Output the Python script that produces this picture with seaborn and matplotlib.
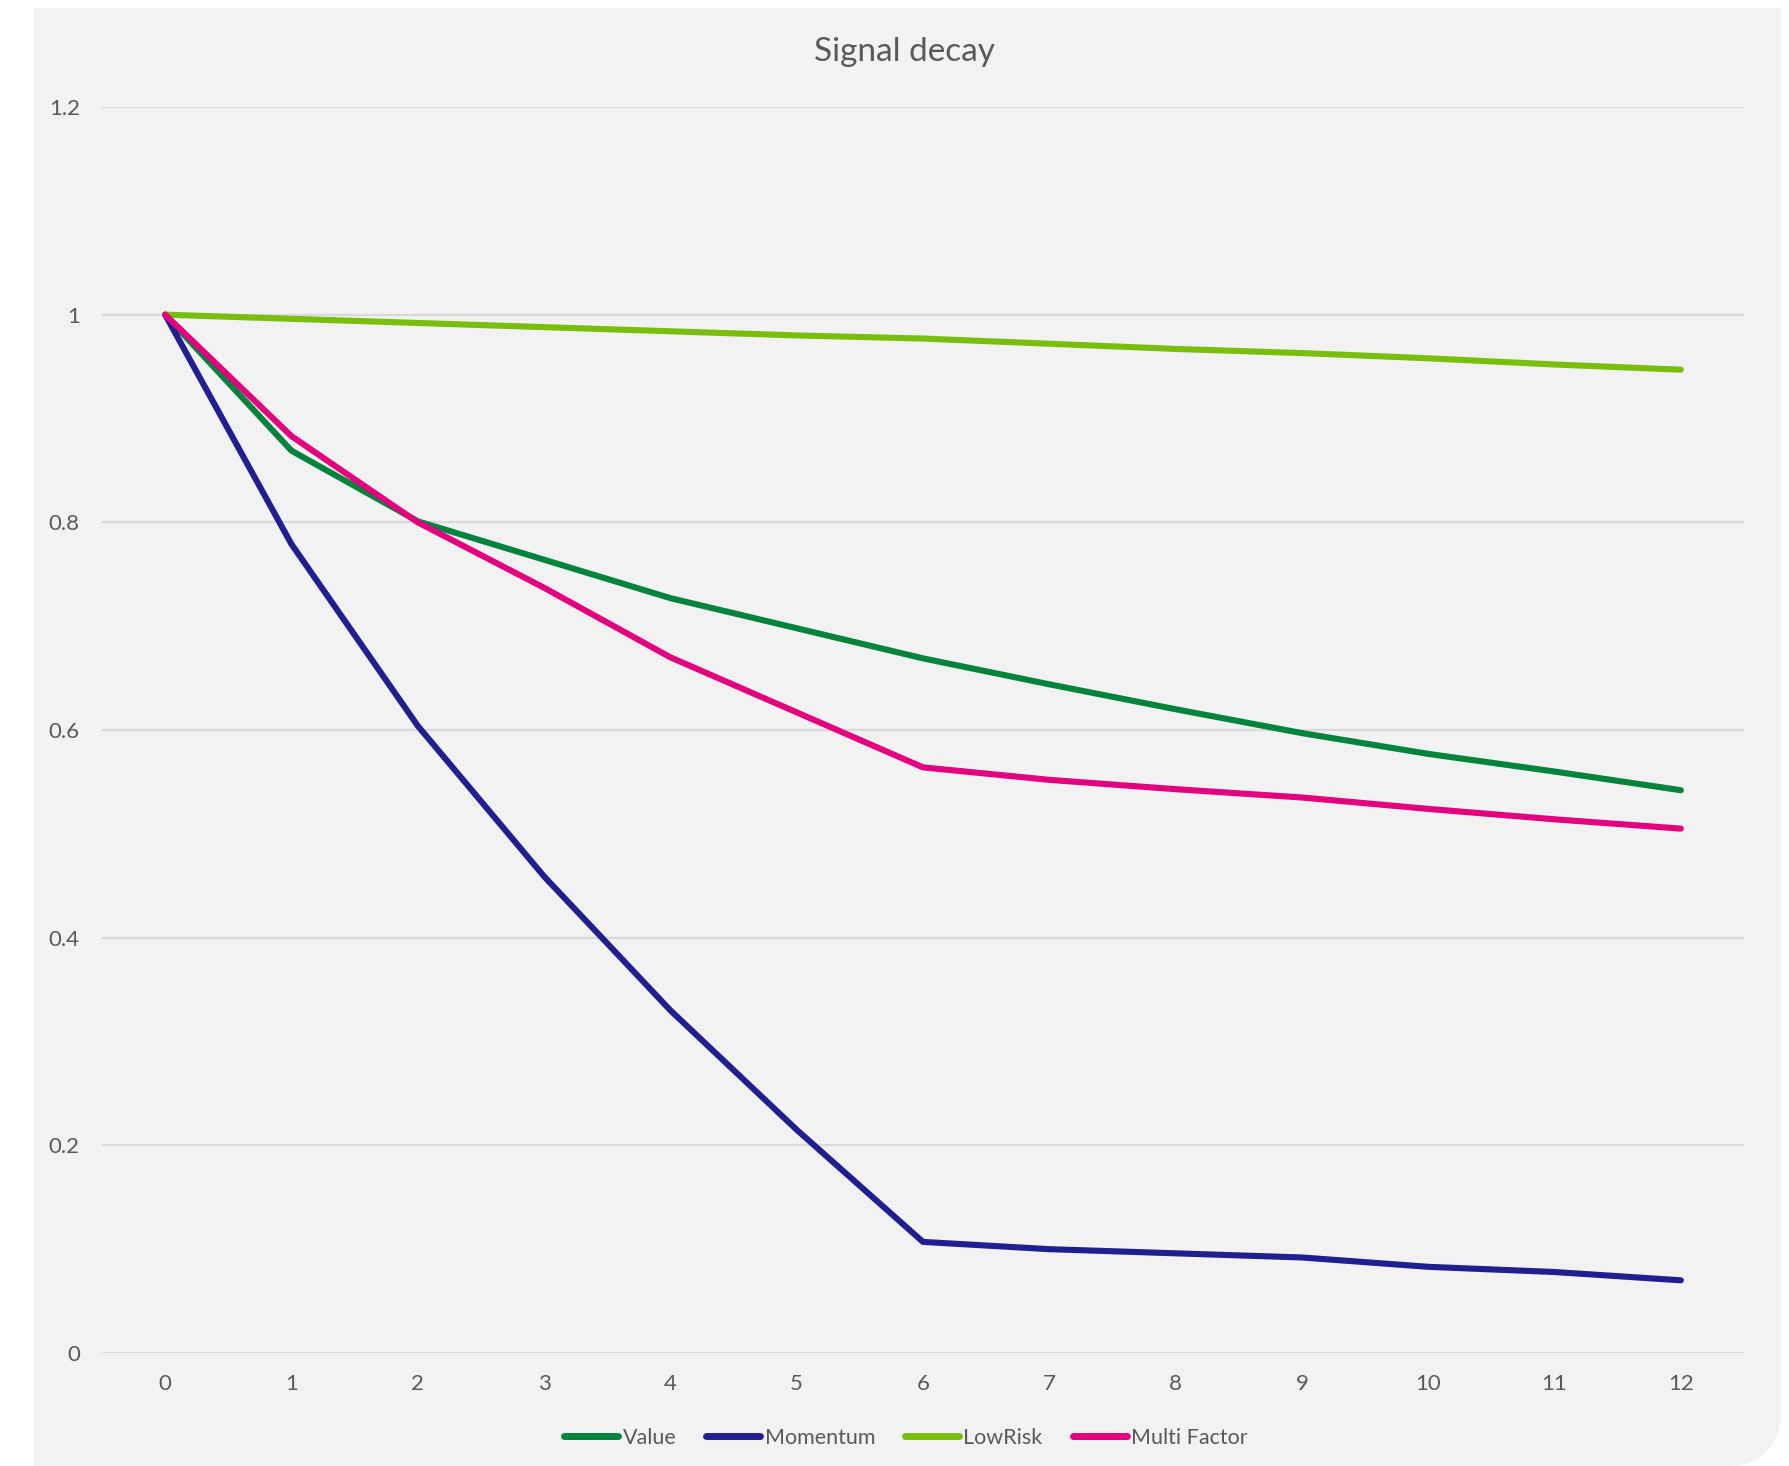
import pandas as pd
import matplotlib.pyplot as plt
import matplotlib.patches as mpatches
import seaborn as sns

periods = list(range(13))
value = [1.0, 0.869, 0.801, 0.764, 0.727, 0.698, 0.669, 0.644, 0.620, 0.597, 0.577, 0.560, 0.542]
momentum = [1.0, 0.779, 0.604, 0.459, 0.330, 0.215, 0.107, 0.100, 0.096, 0.092, 0.083, 0.078, 0.070]
lowrisk = [1.0, 0.996, 0.992, 0.988, 0.984, 0.980, 0.977, 0.972, 0.967, 0.963, 0.958, 0.952, 0.947]
multi_factor = [1.0, 0.883, 0.800, 0.737, 0.670, 0.617, 0.564, 0.552, 0.543, 0.535, 0.524, 0.514, 0.505]

series_names = ["Value", "Momentum", "LowRisk", "Multi Factor"]
colors = {"Value": "#00843D", "Momentum": "#201F8F", "LowRisk": "#78BE0A", "Multi Factor": "#E2007F"}

rows = []
for name, vals in zip(series_names, [value, momentum, lowrisk, multi_factor]):
    for p, v in zip(periods, vals):
        rows.append({"Period": p, "Decay": v, "Factor": name})
df = pd.DataFrame(rows)

sns.set_style("white")
plt.rcParams["font.family"] = ["Lato", "DejaVu Sans"]
text_color = "#595959"
bg = "#F2F2F2"

fig = plt.figure(figsize=(17.9, 14.66), dpi=100)
fig.patch.set_facecolor("white")

# background panel with rounded bottom-right corner
W, H = 1790, 1466
r = 50
for patch in [
    mpatches.Rectangle((34 / W, (1466 - 1416) / H), (1781 - 34) / W, (1416 - 8) / H),
    mpatches.Rectangle((34 / W, 0), (1731 - 34) / W, (1466 - 1416) / H + 0.001),
    mpatches.Ellipse((1731 / W, (1466 - 1416) / H), 2 * r / W, 2 * r / H),
]:
    patch.set_facecolor(bg)
    patch.set_edgecolor("none")
    patch.set_transform(fig.transFigure)
    patch.set_zorder(-10)
    fig.patches.append(patch)

ax = fig.add_axes([102 / W, 1 - 1353 / H, (1744 - 102) / W, (1353 - 107) / H])
ax.set_facecolor(bg)

sns.lineplot(data=df, x="Period", y="Decay", hue="Factor", hue_order=series_names,
             palette=colors, linewidth=4.4, ax=ax, solid_capstyle="round")

ax.set_xlim(-0.5, 12.5)
ax.set_ylim(0, 1.2)
ax.set_xticks(periods)
ax.set_yticks([0, 0.2, 0.4, 0.6, 0.8, 1.0, 1.2])
ax.set_yticklabels(["0", "0.2", "0.4", "0.6", "0.8", "1", "1.2"])
ax.grid(axis="y", color="#D9D9D9", linewidth=1.6)
ax.set_axisbelow(True)
for s in ax.spines.values():
    s.set_visible(False)
ax.tick_params(axis="both", length=0, labelsize=16, colors=text_color)
ax.tick_params(axis="y", pad=16)
ax.tick_params(axis="x", pad=15)
ax.set_xlabel("")
ax.set_ylabel("")

fig.text(905 / W, 1 - 52 / H, "Signal decay", ha="center", va="center",
         fontsize=24, color=text_color)

handles, labels = ax.get_legend_handles_labels()
for h in handles:
    h.set_linewidth(5)
    h.set_solid_capstyle("round")
leg = fig.legend(handles, labels, loc="center", bbox_to_anchor=(906 / W, 1 - 1438 / H),
                 ncol=4, frameon=False, fontsize=15.5, handlelength=2.5,
                 handletextpad=0.2, columnspacing=1.4)
for t in leg.get_texts():
    t.set_color(text_color)
ax.get_legend().remove()

fig.savefig("out.png", dpi=100, facecolor=fig.get_facecolor())
